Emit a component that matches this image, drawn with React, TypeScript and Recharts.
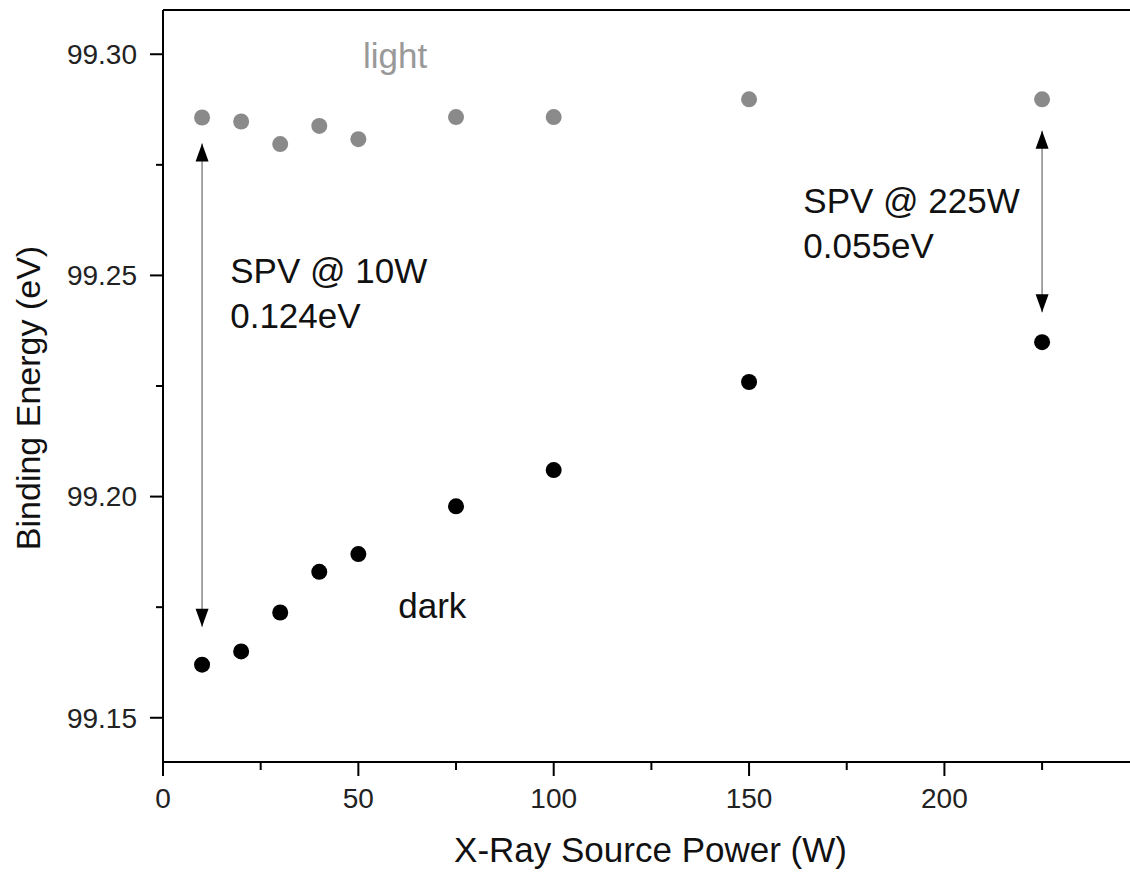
import React from 'react';
import { ScatterChart, Scatter, XAxis, YAxis, ReferenceLine, ReferenceDot } from 'recharts';

// X-ray source power (W) and measured binding energies (eV)
const powers = [10, 20, 30, 40, 50, 75, 100, 150, 225];
const lightEnergy = [99.2857, 99.2848, 99.2797, 99.2838, 99.2808, 99.2858, 99.2858, 99.2898, 99.2898];
const darkEnergy = [99.162, 99.165, 99.1738, 99.183, 99.187, 99.1978, 99.206, 99.2259, 99.2349];

const xTicks = [0, 25, 50, 75, 100, 125, 150, 175, 200, 225];
const yTicks = [99.15, 99.175, 99.2, 99.225, 99.25, 99.275, 99.3];
const xDomain = [0, 247.5];
const yDomain = [99.14, 99.31];

// SPV arrows: power, upper tip, lower tip
const spvArrows = [
  { x: 10, top: 99.2798, bottom: 99.1706 },
  { x: 225, top: 99.2827, bottom: 99.2417 },
];

const FONT = '"Liberation Sans", Arial, Helvetica, sans-serif';

const lightData = powers.map((p, i) => ({ power: p, energy: lightEnergy[i] }));
const darkData = powers.map((p, i) => ({ power: p, energy: darkEnergy[i] }));

// annotation text, anchored at start / baseline in data units
const notes = [
  { x: 51.2, y: 99.2969, text: 'light', color: '#999999' },
  { x: 60.2, y: 99.1726, text: 'dark', color: '#111111' },
  { x: 17.2, y: 99.2482, text: 'SPV @ 10W', color: '#111111' },
  { x: 17.2, y: 99.2381, text: '0.124eV', color: '#111111' },
  { x: 163.9, y: 99.264, text: 'SPV @ 225W', color: '#111111' },
  { x: 163.9, y: 99.2539, text: '0.055eV', color: '#111111' },
];

const XTick = (props: any) => {
  const { x, y, payload } = props;
  const v = payload.value;
  const major = v % 50 === 0;
  const axisY = y - 14;
  return (
    <g>
      <line x1={x} x2={x} y1={axisY} y2={axisY + (major ? 14 : 8)} stroke="#000" strokeWidth={2} />
      {major && (
        <text x={x} y={axisY + 46} textAnchor="middle" fontSize={28} fill="#222">
          {v}
        </text>
      )}
    </g>
  );
};

const YTick = (props: any) => {
  const { x, y, payload } = props;
  const v = payload.value;
  const major = Math.abs(v * 20 - Math.round(v * 20)) < 1e-6;
  const axisX = x + 26;
  return (
    <g>
      <line x1={axisX} x2={axisX - (major ? 13 : 7)} y1={y} y2={y} stroke="#000" strokeWidth={2} />
      {major && (
        <text x={axisX - 26} y={y} dy="0.35em" textAnchor="end" fontSize={28} fill="#222">
          {v.toFixed(2)}
        </text>
      )}
    </g>
  );
};

const dot = (color: string) => (props: any) => <circle cx={props.cx} cy={props.cy} r={8} fill={color} />;

const arrowHead = (up: boolean) => (props: any) => {
  const { cx, cy } = props;
  const h = up ? 18 : -18;
  return <path d={`M${cx},${cy} L${cx - 6.5},${cy + h} L${cx + 6.5},${cy + h} Z`} fill="#000" />;
};

const noteShape = (text: string, color: string) => (props: any) => (
  <text x={props.cx} y={props.cy} fontSize={35} fill={color}>
    {text}
  </text>
);

const App: React.FC = () => {
  return (
    <div style={{ position: 'absolute', left: 0, top: 0, fontFamily: FONT, background: '#fff' }}>
      <ScatterChart width={1130} height={873} margin={{ top: 10, right: 0, bottom: 0, left: 0 }}>
        <XAxis
          type="number"
          dataKey="power"
          domain={xDomain}
          ticks={xTicks}
          interval={0}
          allowDataOverflow
          height={111}
          tickSize={14}
          tickMargin={0}
          tickLine={false}
          tick={<XTick />}
          axisLine={{ stroke: '#000', strokeWidth: 2 }}
          label={{
            content: (p: any) => (
              <text x={p.viewBox.x + p.viewBox.width / 2 + 4} y={862} textAnchor="middle" fontSize={35} fill="#111">
                X-Ray Source Power (W)
              </text>
            ),
          }}
        />
        <YAxis
          type="number"
          dataKey="energy"
          domain={yDomain}
          ticks={yTicks}
          interval={0}
          allowDataOverflow
          width={163}
          tickSize={13}
          tickMargin={13}
          tickLine={false}
          tick={<YTick />}
          axisLine={{ stroke: '#000', strokeWidth: 2 }}
          label={{
            content: () => (
              <text
                x={28}
                y={398}
                dy="0.35em"
                textAnchor="middle"
                fontSize={34}
                fill="#111"
                transform="rotate(-90, 28, 398)"
              >
                Binding Energy (eV)
              </text>
            ),
          }}
        />
        <ReferenceLine y={yDomain[1]} stroke="#000" strokeWidth={2} />
        {spvArrows.map((a, i) => (
          <ReferenceLine
            key={`shaft-${i}`}
            segment={[{ x: a.x, y: a.top }, { x: a.x, y: a.bottom }]}
            stroke="#888"
            strokeWidth={1.5}
          />
        ))}
        {spvArrows.map((a, i) => (
          <ReferenceDot key={`up-${i}`} x={a.x} y={a.top} shape={arrowHead(true)} />
        ))}
        {spvArrows.map((a, i) => (
          <ReferenceDot key={`down-${i}`} x={a.x} y={a.bottom} shape={arrowHead(false)} />
        ))}
        <Scatter name="light" data={lightData} fill="#8a8a8a" shape={dot('#8a8a8a')} isAnimationActive={false} />
        <Scatter name="dark" data={darkData} fill="#000" shape={dot('#000')} isAnimationActive={false} />
        {notes.map((n, i) => (
          <ReferenceDot key={`note-${i}`} x={n.x} y={n.y} shape={noteShape(n.text, n.color)} />
        ))}
      </ScatterChart>
    </div>
  );
};

export default App;
